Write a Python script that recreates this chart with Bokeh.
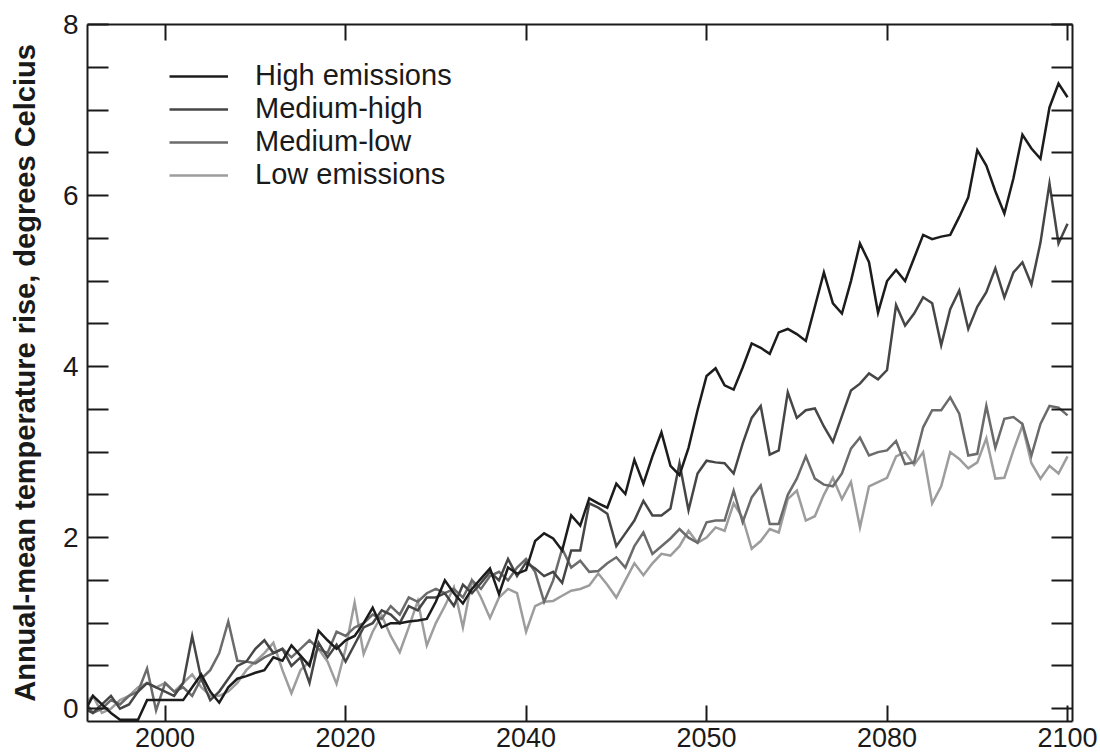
from bokeh.plotting import figure
from bokeh.models import (FixedTicker, LinearAxis, Legend, LegendItem, Range1d,
                          CustomJSTickFormatter, ColumnDataSource)
from bokeh.embed import file_html
from bokeh.resources import INLINE

# ---------------- data ----------------
years = list(range(1991, 2101))

high = [
    -0.05, 0.15, 0.05, -0.05, -0.13, -0.13, -0.13, 0.1, 0.1, 0.1,
    0.1, 0.1, 0.25, 0.4, 0.2, 0.07, 0.25, 0.35, 0.38, 0.42,
    0.45, 0.6, 0.56, 0.74, 0.62, 0.5, 0.91, 0.8, 0.7, 0.8,
    0.85, 1.0, 1.18, 0.95, 1.0, 1.0, 1.02, 1.03, 1.05, 1.25,
    1.5, 1.35, 1.23, 1.4, 1.52, 1.64, 1.34, 1.65, 1.58, 1.62,
    1.96, 2.05, 1.99, 1.85, 2.26, 2.14, 2.46, 2.4, 2.35, 2.63,
    2.51, 2.91, 2.63, 2.95, 3.23, 2.84, 2.73, 3.05, 3.49, 3.89,
    3.98, 3.78, 3.73, 3.99, 4.27, 4.22, 4.15, 4.4, 4.44, 4.38,
    4.30, 4.7, 5.10, 4.74, 4.62, 5.0, 5.44, 5.22, 4.63, 5.0,
    5.13, 5.0, 5.27, 5.54, 5.49, 5.52, 5.54, 5.75, 5.98, 6.53,
    6.35, 6.05, 5.79, 6.2, 6.71, 6.55, 6.43, 7.03, 7.31, 7.15,
]

medium_high = [
    0.0, -0.05, 0.05, 0.15, 0.0, 0.05, 0.2, 0.3, 0.25, 0.2,
    0.15, 0.3, 0.85, 0.35, 0.1, 0.2, 0.35, 0.5, 0.55, 0.7,
    0.8, 0.65, 0.7, 0.5, 0.6, 0.3, 0.77, 0.6, 0.75, 0.55,
    0.75, 0.95, 1.0, 1.15, 1.1, 1.0, 1.2, 1.15, 1.3, 1.3,
    1.35, 1.2, 1.45, 1.35, 1.47, 1.6, 1.5, 1.75, 1.55, 1.71,
    1.64, 1.55, 1.6, 1.47, 1.85, 1.85, 2.4, 2.35, 2.28, 1.9,
    2.05, 2.2, 2.43, 2.26, 2.26, 2.34, 2.87, 2.32, 2.75, 2.9,
    2.88, 2.87, 2.75, 3.1, 3.4, 3.54, 2.97, 3.02, 3.7, 3.4,
    3.49, 3.51, 3.3, 3.12, 3.42, 3.72, 3.8, 3.92, 3.85, 3.96,
    4.72, 4.48, 4.62, 4.81, 4.74, 4.25, 4.67, 4.89, 4.44, 4.70,
    4.87, 5.15, 4.81, 5.10, 5.22, 4.96, 5.45, 6.14, 5.44, 5.67,
]

medium_low = [
    0.1, -0.05, 0.0, 0.1, 0.05, 0.15, 0.2, 0.47, -0.02, 0.3,
    0.2, 0.25, 0.15, 0.35, 0.45, 0.65, 1.02, 0.56, 0.55, 0.53,
    0.6, 0.65, 0.7, 0.6, 0.7, 0.8, 0.7, 0.65, 0.9, 0.85,
    0.95, 1.0, 1.1, 1.05, 1.2, 1.1, 1.3, 1.25, 1.35, 1.4,
    1.35, 1.4, 1.3, 1.5, 1.4, 1.55, 1.6, 1.5, 1.65, 1.75,
    1.6, 1.25, 1.5, 1.87, 1.65, 1.73, 1.6, 1.61, 1.7, 1.77,
    1.65, 1.9, 2.06, 1.81, 1.9, 1.99, 2.1, 2.0, 1.94, 2.18,
    2.2, 2.2, 2.55, 2.18, 2.47, 2.61, 2.16, 2.16, 2.5, 2.69,
    2.95, 2.69, 2.62, 2.6, 2.75, 3.04, 3.17, 2.96, 3.0, 3.02,
    3.13, 2.86, 2.88, 3.29, 3.49, 3.49, 3.64, 3.45, 2.96, 2.98,
    3.54, 3.05, 3.39, 3.41, 3.33, 2.96, 3.33, 3.54, 3.52, 3.43,
]

low = [
    0.05, 0.15, -0.05, 0.0, 0.1, 0.15, 0.25, 0.3, 0.25, 0.3,
    0.2, 0.3, 0.4, 0.25, 0.15, 0.15, 0.2, 0.3, 0.45, 0.55,
    0.65, 0.77, 0.45, 0.18, 0.45, 0.55, 0.7, 0.55, 0.29, 0.7,
    1.24, 0.64, 0.9, 1.09, 0.85, 0.66, 0.95, 1.26, 0.74, 1.0,
    1.2, 1.42, 0.95, 1.5, 1.3, 1.06, 1.3, 1.4, 1.35, 0.9,
    1.2, 1.25, 1.26, 1.32, 1.38, 1.4, 1.44, 1.58, 1.45, 1.3,
    1.5, 1.7, 1.56, 1.7, 1.81, 1.79, 1.9, 2.08, 1.94, 2.0,
    2.12, 2.08, 2.4, 2.23, 1.87, 1.96, 2.1, 2.06, 2.45, 2.55,
    2.2, 2.25, 2.5, 2.7, 2.45, 2.65, 2.12, 2.6, 2.65, 2.7,
    2.95, 3.0, 2.85, 3.0, 2.4, 2.6, 3.0, 2.92, 2.81, 2.88,
    3.16, 2.69, 2.7, 3.02, 3.31, 2.87, 2.69, 2.84, 2.75, 2.95,
]

series_names = ["High emissions", "Medium-high", "Medium-low", "Low emissions"]
series_colors = ["#1c1c1c", "#464646", "#6b6b6b", "#9d9d9d"]

x_ticks = [2000, 2020, 2040, 2060, 2080, 2100]
x_tick_labels = {2060: "2050"}   # as printed on the original chart
y_ticks = [0, 2, 4, 6, 8]
y_minor = [v / 2 for v in range(1, 16) if v % 4 != 0]

# ---------------- figure ----------------
FONT = "Liberation Sans"
INK = "#1a1a1a"

p = figure(frame_width=985, frame_height=697,
           x_range=Range1d(1991.4, 2100.55), y_range=Range1d(-0.15, 8.0),
           output_backend="svg", toolbar_location=None,
           min_border_left=87, min_border_right=28,
           min_border_top=24, min_border_bottom=35)
p.xgrid.visible = False
p.ygrid.visible = False
p.outline_line_color = None
p.background_fill_color = "white"
p.border_fill_color = "white"

src = ColumnDataSource(dict(year=years, high=high, mh=medium_high,
                            ml=medium_low, low=low))
renderers = {}
for key, name, col in reversed(list(zip(["high", "mh", "ml", "low"],
                                        series_names, series_colors))):
    renderers[name] = p.line("year", key, source=src, line_color=col,
                             line_width=2.5, line_join="miter")

def style_axis(ax, tick_len, show_labels):
    ax.axis_line_color = INK
    ax.axis_line_width = 2
    ax.major_tick_line_color = INK
    ax.major_tick_line_width = 2
    ax.minor_tick_line_color = INK
    ax.minor_tick_line_width = 2
    ax.major_tick_in = tick_len
    ax.major_tick_out = 0
    ax.minor_tick_in = tick_len
    ax.minor_tick_out = 0
    ax.major_label_text_font = FONT
    ax.major_label_text_color = INK
    if not show_labels:
        ax.formatter = CustomJSTickFormatter(code="return ''")

xt = FixedTicker(ticks=x_ticks, minor_ticks=[])
yt = FixedTicker(ticks=y_ticks, minor_ticks=y_minor)

xb = p.xaxis[0]
xb.ticker = xt
style_axis(xb, 16, True)
xb.major_label_overrides = x_tick_labels
xb.major_label_text_font_size = "27px"
xb.major_label_standoff = 6

yl = p.yaxis[0]
yl.ticker = yt
style_axis(yl, 21, True)
yl.major_label_text_font_size = "28px"
yl.major_label_standoff = 9
yl.axis_label = "Annual-mean temperature rise, degrees Celcius"
yl.axis_label_text_font = FONT
yl.axis_label_text_font_style = "bold"
yl.axis_label_text_font_size = "29px"
yl.axis_label_text_color = INK
yl.axis_label_standoff = 19

xtop = LinearAxis(ticker=xt)
style_axis(xtop, 16, False)
p.add_layout(xtop, "above")

yr = LinearAxis(ticker=yt)
style_axis(yr, 21, False)
p.add_layout(yr, "right")

legend = Legend(items=[LegendItem(label=n, renderers=[renderers[n]]) for n in series_names],
                location=(82, 530))
legend.glyph_width = 59
legend.glyph_height = 30
legend.label_height = 30
legend.label_standoff = 27
legend.spacing = 0
legend.padding = 0
legend.margin = 0
legend.border_line_color = None
legend.background_fill_alpha = 0
legend.label_text_font = FONT
legend.label_text_font_size = "29px"
legend.label_text_color = INK
p.add_layout(legend)

open("out.html", "w").write(file_html(p, INLINE))
